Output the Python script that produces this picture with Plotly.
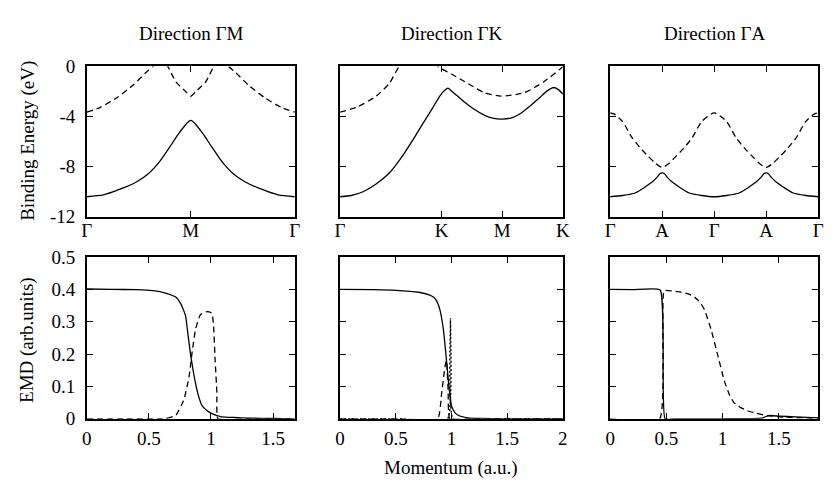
import plotly.graph_objects as go

# ---------------- data ----------------
# Top row: binding energy along paths (x is fractional path position)
gm_x_solid = [0, 0.08, 0.16, 0.24, 0.30, 0.35, 0.40, 0.44, 0.47, 0.49, 0.5,
              0.51, 0.53, 0.56, 0.60, 0.65, 0.70, 0.76, 0.84, 0.92, 1.0]
gm_y_solid = [-10.4, -10.25, -9.8, -9.2, -8.5, -7.6, -6.4, -5.4, -4.75, -4.4, -4.3,
              -4.4, -4.75, -5.4, -6.4, -7.6, -8.5, -9.2, -9.8, -10.25, -10.4]
gm_x_dash = [0, 0.065, 0.144, 0.223, 0.286, 0.318, 0.35, 0.389, 0.428, 0.475, 0.5,
             0.525, 0.572, 0.611, 0.65, 0.682, 0.714, 0.777, 0.856, 0.935, 1.0]
gm_y_dash = [-3.64, -3.26, -2.5, -1.48, -0.46, 0.0, 0.6, 0.0, -1.22, -1.99, -2.37,
             -1.99, -1.22, 0.0, 0.6, 0.0, -0.46, -1.48, -2.5, -3.26, -3.64]

gk_x_solid = [0, 0.05, 0.103, 0.16, 0.221, 0.27, 0.324, 0.37, 0.413, 0.45, 0.47, 0.484,
              0.50, 0.53, 0.561, 0.60, 0.649, 0.69, 0.728, 0.77, 0.81, 0.85, 0.895,
              0.93, 0.959, 0.98, 1.0]
gk_y_solid = [-10.4, -10.3, -10.0, -9.4, -8.5, -7.4, -5.94, -4.6, -3.39, -2.3, -1.9, -1.73,
              -1.95, -2.4, -2.88, -3.4, -3.9, -4.15, -4.2, -4.1, -3.75, -3.2, -2.5,
              -1.95, -1.68, -1.85, -2.2]
gk_x_dash = [0, 0.074, 0.162, 0.221, 0.265, 0.30, 0.36, 0.41, 0.44, 0.457, 0.50, 0.56,
             0.649, 0.723, 0.826, 0.915, 0.988, 1.0]
gk_y_dash = [-3.64, -3.26, -2.37, -1.35, 0.0, 0.6, 1.0, 0.6, 0.0, -0.2, -0.6, -1.22,
             -2.1, -2.37, -2.1, -1.22, -0.2, 0.0]

ga_x_solid = [0, 0.06, 0.12, 0.17, 0.2, 0.225, 0.24, 0.25, 0.26, 0.275, 0.3, 0.33, 0.38,
              0.44, 0.5, 0.56, 0.62, 0.67, 0.7, 0.725, 0.74, 0.75, 0.76, 0.775, 0.8,
              0.83, 0.88, 0.94, 1.0]
ga_y_solid = [-10.4, -10.3, -10.1, -9.6, -9.25, -8.85, -8.55, -8.5, -8.55, -8.85, -9.25,
              -9.6, -10.1, -10.3, -10.4, -10.3, -10.1, -9.6, -9.25, -8.85, -8.55, -8.5,
              -8.55, -8.85, -9.25, -9.6, -10.1, -10.3, -10.4]
ga_x_dash = [0, 0.02, 0.06, 0.105, 0.15, 0.185, 0.215, 0.24, 0.25, 0.26, 0.285, 0.315, 0.35,
             0.395, 0.44, 0.5, 0.56, 0.605, 0.65, 0.685, 0.715, 0.74, 0.75, 0.76, 0.785,
             0.815, 0.85, 0.895, 0.94, 0.98, 1.0]
ga_y_dash = [-3.7, -3.8, -4.4, -5.68, -6.6, -7.2, -7.7, -8.0, -8.05, -8.0, -7.7, -7.2, -6.6,
             -5.68, -4.4, -3.7, -4.4, -5.68, -6.6, -7.2, -7.7, -8.0, -8.05, -8.0, -7.7,
             -7.2, -6.6, -5.68, -4.4, -3.8, -3.7]

# Bottom row: EMD versus momentum (a.u.)
emd1_x_solid = [0, 0.2, 0.4, 0.53, 0.62, 0.69, 0.717, 0.756, 0.78, 0.796, 0.815, 0.836,
                0.856, 0.876, 0.9, 0.929, 0.97, 1.008, 1.087, 1.19, 1.3, 1.5, 1.675]
emd1_y_solid = [0.401, 0.400, 0.399, 0.396, 0.39, 0.381, 0.376, 0.356, 0.335, 0.317, 0.26,
                0.198, 0.15, 0.109, 0.07, 0.04, 0.025, 0.016, 0.006, 0.004, 0.002, 0.001, 0.0]
emd1_x_dash = [0, 0.3, 0.6, 0.637, 0.717, 0.783, 0.823, 0.849, 0.876, 0.915, 0.968,
               1.008, 1.021, 1.034, 1.048, 1.056, 1.3, 1.675]
emd1_y_dash = [0, 0, 0, 0.001, 0.011, 0.06, 0.129, 0.208, 0.277, 0.322, 0.331,
               0.326, 0.287, 0.178, 0.08, 0.0, 0, 0]

emd2_x_solid = [0, 0.3, 0.5, 0.706, 0.8, 0.838, 0.87, 0.897, 0.927, 0.956, 0.977, 1.0,
                1.03, 1.06, 1.15, 1.25, 1.5, 2.0]
emd2_y_solid = [0.4, 0.399, 0.397, 0.391, 0.383, 0.376, 0.362, 0.336, 0.277, 0.178, 0.1,
                0.04, 0.02, 0.011, 0.003, 0.001, 0, 0]
emd2_x_dash = [0, 0.5, 0.877, 0.912, 0.941, 0.955, 0.97, 0.985, 1.2, 2.0]
emd2_y_dash = [0, 0, 0, 0.08, 0.159, 0.18, 0.09, 0, 0, 0]
emd2_x_dot = [0, 0.5, 0.965, 0.991, 1.015, 1.5, 2.0]
emd2_y_dot = [0, 0, 0, 0.309, 0, 0, 0]

emd3_x_solid = [0, 0.2, 0.445, 0.488, 0.6, 1.0, 1.35, 1.41, 1.5, 1.65, 1.85]
emd3_y_solid = [0.4, 0.399, 0.398, 0, 0, 0, 0.002, 0.01, 0.008, 0.006, 0.003]
emd3_x_dash = [0, 0.44, 0.48, 0.55, 0.634, 0.7, 0.751, 0.8, 0.839, 0.897, 0.956, 1.014,
               1.06, 1.1, 1.16, 1.22, 1.3, 1.39, 1.56, 1.85]
emd3_y_dash = [0, 0, 0.396, 0.395, 0.391, 0.385, 0.376, 0.36, 0.337, 0.277, 0.198, 0.119,
               0.075, 0.05, 0.035, 0.025, 0.017, 0.01, 0.005, 0.002]

titles = ["Direction ΓM", "Direction ΓK", "Direction ΓA"]
top_tickvals = [[0, 0.5, 1], [0, 0.456, 0.728, 1], [0, 0.25, 0.5, 0.75, 1]]
top_ticktext = [["Γ", "M", "Γ"], ["Γ", "K", "M", "K"], ["Γ", "A", "Γ", "A", "Γ"]]
energy_ticks = [0, -4, -8, -12]
emd_ticks = [0, 0.1, 0.2, 0.3, 0.4, 0.5]
emd_xranges = [1.675, 2.0, 1.85]
emd_xticks = [[0, 0.5, 1, 1.5], [0, 0.5, 1, 1.5, 2], [0, 0.5, 1, 1.5]]
emd_xticktext = [["0", "0.5", "1", "1.5"], ["0", "0.5", "1", "1.5", "2"], ["0", "0.5", "1", "1.5"]]

# ---------------- figure ----------------
W, H = 833, 492
FONT = "'Liberation Serif', 'Times New Roman', 'DejaVu Serif', serif"
FS = 19
fig = go.Figure()

xdoms = [(83, 294), (340, 566), (614, 825)]
top_y = (59, 216)
bot_y = (258, 427)

def dom_x(a):
    return [a[0] / W, a[1] / W]

def dom_y(a):
    return [1 - a[1] / H, 1 - a[0] / H]

SOLID = dict(color="black", width=1.3)
DASH = dict(color="black", width=1.3, dash="6px,4px")
DOT = dict(color="black", width=1.4, dash="2px,2px")

top_data = [
    (gm_x_solid, gm_y_solid, gm_x_dash, gm_y_dash),
    (gk_x_solid, gk_y_solid, gk_x_dash, gk_y_dash),
    (ga_x_solid, ga_y_solid, ga_x_dash, ga_y_dash),
]
bot_data = [
    [(emd1_x_dash, emd1_y_dash, DASH), (emd1_x_solid, emd1_y_solid, SOLID)],
    [(emd2_x_dash, emd2_y_dash, DASH), (emd2_x_dot, emd2_y_dot, DOT),
     (emd2_x_solid, emd2_y_solid, SOLID)],
    [(emd3_x_dash, emd3_y_dash, DASH), (emd3_x_solid, emd3_y_solid, SOLID)],
]

axis_common = dict(
    showline=True, linecolor="black", linewidth=1.6, mirror="ticks",
    ticks="inside", ticklen=6, tickwidth=1.3, tickcolor="black",
    showgrid=False, zeroline=False,
    tickfont=dict(family=FONT, size=FS, color="black"),
)

for i in range(3):
    xa = f"x{i+1}" if i else "x"
    ya = f"y{i+1}" if i else "y"
    xs, ys, xd, yd = top_data[i]
    fig.add_trace(go.Scatter(x=xd, y=yd, mode="lines", line=dict(DASH, shape="spline", smoothing=0.6),
                             xaxis=xa, yaxis=ya, showlegend=False, hoverinfo="skip"))
    fig.add_trace(go.Scatter(x=xs, y=ys, mode="lines", line=dict(SOLID, shape="spline", smoothing=0.6),
                             xaxis=xa, yaxis=ya, showlegend=False, hoverinfo="skip"))
    lay_x = "xaxis" if i == 0 else f"xaxis{i+1}"
    lay_y = "yaxis" if i == 0 else f"yaxis{i+1}"
    fig.update_layout({
        lay_x: dict(axis_common, domain=dom_x(xdoms[i]), range=[0, 1], anchor=ya,
                    tickmode="array", tickvals=top_tickvals[i], ticktext=top_ticktext[i],
                    ticklabelstandoff=-4),
        lay_y: dict(axis_common, domain=dom_y(top_y), range=[-12, 0], anchor=xa,
                    tickmode="array", tickvals=energy_ticks,
                    ticktext=[str(v) for v in energy_ticks],
                    showticklabels=(i == 0), ticklabelstandoff=6),
    })

    j = i + 4
    xb, yb = f"x{j}", f"y{j}"
    for (bx, by, ln) in bot_data[i]:
        fig.add_trace(go.Scatter(x=bx, y=by, mode="lines", line=dict(ln, shape="spline", smoothing=0.4),
                                 xaxis=xb, yaxis=yb, showlegend=False, hoverinfo="skip"))
    fig.update_layout({
        f"xaxis{j}": dict(axis_common, domain=dom_x(xdoms[i]), range=[0, emd_xranges[i]], anchor=yb,
                          tickmode="array", tickvals=emd_xticks[i], ticktext=emd_xticktext[i],
                          ticklabelstandoff=2),
        f"yaxis{j}": dict(axis_common, domain=dom_y(bot_y), range=[0, 0.5], anchor=xb,
                          tickmode="array", tickvals=emd_ticks,
                          ticktext=[("0" if v == 0 else f"{v:.1f}") for v in emd_ticks],
                          showticklabels=(i == 0), ticklabelstandoff=6),
    })

annotations = []
for i in range(3):
    cx = (xdoms[i][0] + xdoms[i][1]) / 2 / W
    annotations.append(dict(text=titles[i], x=cx, y=1 - 25 / H, xref="paper", yref="paper",
                            showarrow=False, xanchor="center", yanchor="middle",
                            font=dict(family=FONT, size=FS, color="black")))
annotations.append(dict(text="Binding Energy (eV)", x=23 / W, y=1 - 137 / H, xref="paper", yref="paper",
                        showarrow=False, textangle=-90, xanchor="center", yanchor="middle",
                        font=dict(family=FONT, size=FS, color="black")))
annotations.append(dict(text="EMD (arb.units)", x=23 / W, y=1 - 345 / H, xref="paper", yref="paper",
                        showarrow=False, textangle=-90, xanchor="center", yanchor="middle",
                        font=dict(family=FONT, size=FS, color="black")))
annotations.append(dict(text="Momentum (a.u.)", x=453 / W, y=1 - 478 / H, xref="paper", yref="paper",
                        showarrow=False, xanchor="center", yanchor="middle",
                        font=dict(family=FONT, size=FS, color="black")))

fig.update_layout(
    width=W, height=H, margin=dict(l=0, r=0, t=0, b=0),
    paper_bgcolor="white", plot_bgcolor="white",
    annotations=annotations, showlegend=False,
)

fig.write_html("out.html", config={"displayModeBar": False},
               post_script="document.body.style.margin='0';document.body.style.overflow='hidden';")
